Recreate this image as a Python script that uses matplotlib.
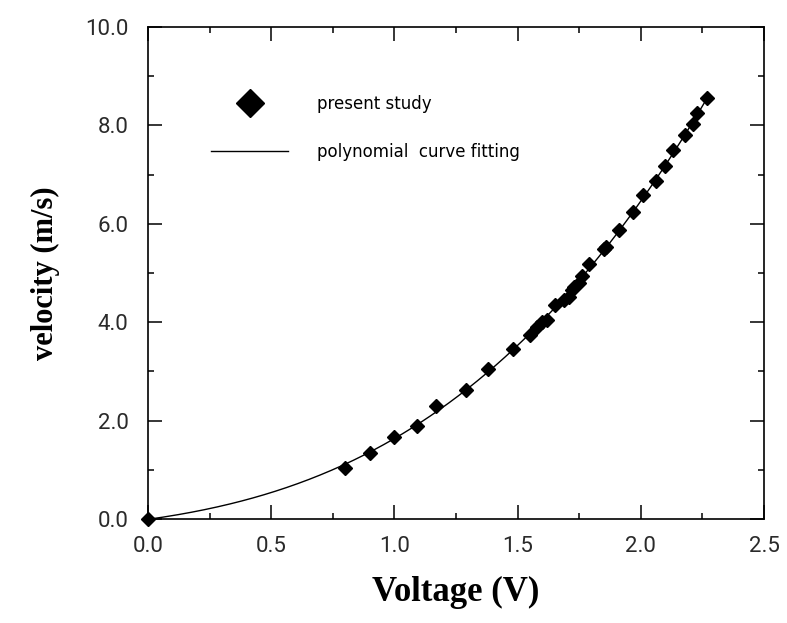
import numpy as np
import matplotlib.pyplot as plt
from matplotlib.lines import Line2D
from matplotlib.ticker import MultipleLocator, FormatStrFormatter

voltage = [0.00, 0.80, 0.90, 1.00, 1.09, 1.17, 1.29, 1.38, 1.48, 1.55, 1.58,
           1.60, 1.62, 1.65, 1.69, 1.71, 1.72, 1.73, 1.75, 1.76, 1.79, 1.85,
           1.86, 1.91, 1.97, 2.01, 2.06, 2.10, 2.13, 2.18, 2.21, 2.23, 2.27]
velocity = [0.00, 1.04, 1.34, 1.67, 1.90, 2.30, 2.62, 3.04, 3.45, 3.74, 3.91,
            4.00, 4.05, 4.35, 4.45, 4.52, 4.65, 4.72, 4.80, 4.94, 5.19, 5.49,
            5.52, 5.87, 6.23, 6.59, 6.87, 7.18, 7.49, 7.80, 8.02, 8.25, 8.55]

x_ticks = [0.0, 0.5, 1.0, 1.5, 2.0, 2.5]
y_ticks = [0.0, 2.0, 4.0, 6.0, 8.0, 10.0]

fig = plt.figure(figsize=(7.87, 6.23), dpi=100)
ax = fig.add_axes([148 / 787, 1 - 519 / 623, (764 - 148) / 787, (519 - 27) / 623])

# polynomial curve fitting through the measured points
coef = np.polyfit(voltage, velocity, 3)
v_fit = np.linspace(0, max(voltage), 300)
ax.plot(v_fit, np.polyval(coef, v_fit), color='black', lw=1.0, zorder=2)
ax.plot(voltage, velocity, 'D', color='black', ms=7.5, clip_on=False, zorder=3)

ax.set_xlim(0, 2.5)
ax.set_ylim(0, 10)
ax.set_xticks(x_ticks)
ax.set_yticks(y_ticks)
ax.xaxis.set_minor_locator(MultipleLocator(0.25))
ax.yaxis.set_minor_locator(MultipleLocator(1.0))
ax.xaxis.set_major_formatter(FormatStrFormatter('%.1f'))
ax.yaxis.set_major_formatter(FormatStrFormatter('%.1f'))
ax.tick_params(which='both', direction='in', top=True, right=True, width=1.1, color='black')
ax.tick_params(which='major', length=10, labelsize=16, labelcolor='#2a2a2a')
ax.tick_params(axis='x', which='major', pad=12)
ax.tick_params(axis='y', which='major', pad=14)
ax.tick_params(which='minor', length=4)
for lab in ax.get_xticklabels() + ax.get_yticklabels():
    lab.set_family(['Roboto', 'DejaVu Sans'])
for sp in ax.spines.values():
    sp.set_linewidth(1.2)

ax.set_xlabel('Voltage (V)', family='Liberation Serif', fontweight='bold', fontsize=25, labelpad=14)
ax.set_ylabel('velocity (m/s)', family='Liberation Serif', fontweight='bold', fontsize=22, labelpad=18)

handles = [Line2D([], [], marker='D', color='black', ls='none', ms=14),
           Line2D([], [], color='black', lw=1.0)]
ax.legend(handles, ['present study', 'polynomial  curve fitting'],
          loc='upper left', bbox_to_anchor=(211 / 787, (623 - 95) / 623),
          bbox_transform=fig.transFigure, frameon=False, fontsize=12,
          handlelength=4.62, handletextpad=1.74, labelspacing=1.78,
          borderpad=0, borderaxespad=0)

fig.savefig('out.png', dpi=100)
